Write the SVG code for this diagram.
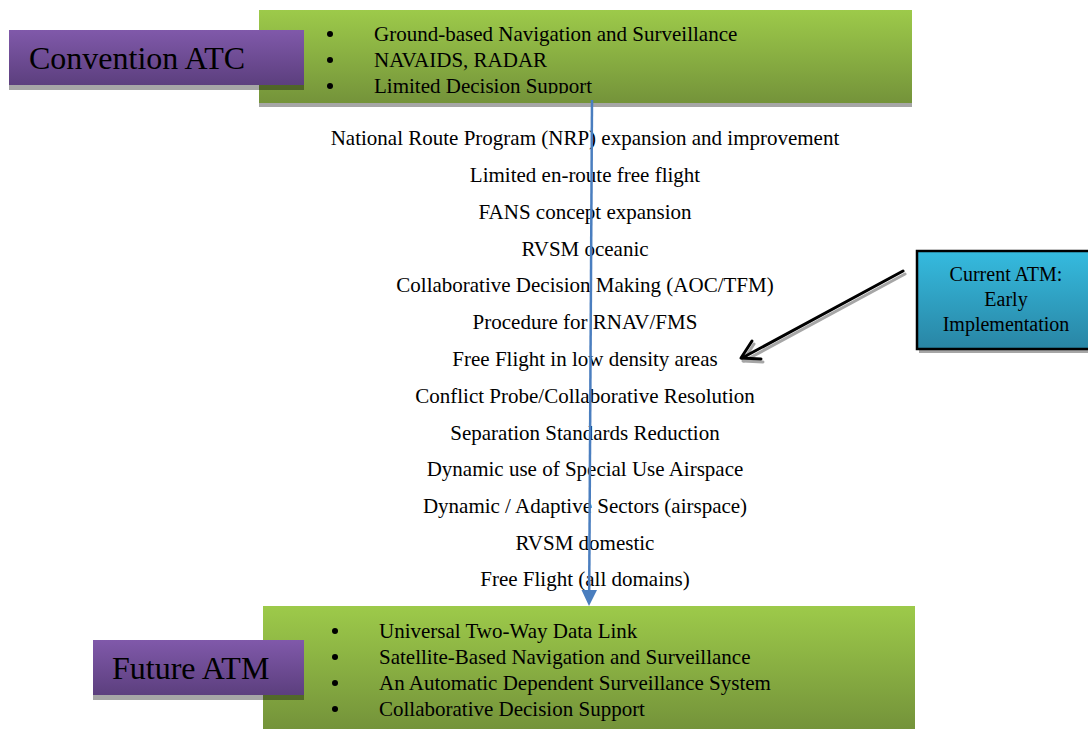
<svg xmlns="http://www.w3.org/2000/svg" width="1088" height="729" viewBox="0 0 1088 729">
  <defs>
    <linearGradient id="gGreen" x1="0" y1="0" x2="0" y2="1">
      <stop offset="0" stop-color="#9DCA4A"/>
      <stop offset="1" stop-color="#74933A"/>
    </linearGradient>
    <linearGradient id="gPurple" x1="0" y1="0" x2="0" y2="1">
      <stop offset="0" stop-color="#8059AA"/>
      <stop offset="1" stop-color="#5C3F7E"/>
    </linearGradient>
    <linearGradient id="gTeal" x1="0" y1="0" x2="0" y2="1">
      <stop offset="0" stop-color="#35BBDF"/>
      <stop offset="1" stop-color="#2985A4"/>
    </linearGradient>
    <clipPath id="clipTop">
      <rect x="259" y="10" width="653" height="83.5"/>
    </clipPath>
  </defs>
  <style>
    text { font-family: "Liberation Serif", "DejaVu Serif", "Times New Roman", serif; fill: #000; }
    .title { font-size: 32px; }
    .item { font-size: 21px; }
    .mid { font-size: 21px; text-anchor: middle; }
    .note { font-size: 20px; text-anchor: middle; }
    .shadow { fill: #000; opacity: 0.35; }
    .dot { fill: #000; }
  </style>

  <rect width="1088" height="729" fill="#fff"/>

  <!-- conventional ATC: bullet panel -->
  <g id="conventional-panel">
    <rect class="shadow" x="259" y="14" width="653" height="93"/>
    <rect x="259" y="10" width="653" height="93" fill="url(#gGreen)"/>
    <g clip-path="url(#clipTop)">
      <circle class="dot" cx="330" cy="34" r="3"/>
      <circle class="dot" cx="330" cy="60" r="3"/>
      <circle class="dot" cx="330" cy="86" r="3"/>
      <text class="item" x="374" y="41" font-family="Liberation Serif, serif">Ground-based Navigation and Surveillance</text>
      <text class="item" x="374" y="67" font-family="Liberation Serif, serif">NAVAIDS, RADAR</text>
      <text class="item" x="374" y="93" font-family="Liberation Serif, serif">Limited Decision Support</text>
    </g>
  </g>

  <!-- conventional ATC: label -->
  <g id="conventional-label">
    <rect class="shadow" x="9" y="35" width="295" height="55"/>
    <rect x="9" y="30" width="295" height="55" fill="url(#gPurple)"/>
    <text class="title" x="29" y="69">Convention ATC</text>
  </g>

  <!-- transition milestones -->
  <g id="milestones">
    <text class="mid" x="585" y="145">National Route Program (NRP) expansion and improvement</text>
    <text class="mid" x="585" y="182">Limited en-route free flight</text>
    <text class="mid" x="585" y="219">FANS concept expansion</text>
    <text class="mid" x="585" y="256">RVSM oceanic</text>
    <text class="mid" x="585" y="292">Collaborative Decision Making (AOC/TFM)</text>
    <text class="mid" x="585" y="329">Procedure for RNAV/FMS</text>
    <text class="mid" x="585" y="366">Free Flight in low density areas</text>
    <text class="mid" x="585" y="403">Conflict Probe/Collaborative Resolution</text>
    <text class="mid" x="585" y="440">Separation Standards Reduction</text>
    <text class="mid" x="585" y="476">Dynamic use of Special Use Airspace</text>
    <text class="mid" x="585" y="513">Dynamic / Adaptive Sectors (airspace)</text>
    <text class="mid" x="585" y="550">RVSM domestic</text>
    <text class="mid" x="585" y="586">Free Flight (all domains)</text>
  </g>

  <!-- future ATM: bullet panel -->
  <g id="future-panel">
    <rect x="263" y="606" width="652" height="123" fill="url(#gGreen)"/>
    <circle class="dot" cx="335" cy="631" r="3"/>
    <circle class="dot" cx="335" cy="657" r="3"/>
    <circle class="dot" cx="335" cy="683" r="3"/>
    <circle class="dot" cx="335" cy="709" r="3"/>
    <text class="item" x="379" y="638">Universal Two-Way Data Link</text>
    <text class="item" x="379" y="664">Satellite-Based Navigation and Surveillance</text>
    <text class="item" x="379" y="690">An Automatic Dependent Surveillance System</text>
    <text class="item" x="379" y="716">Collaborative Decision Support</text>
  </g>

  <!-- future ATM: label -->
  <g id="future-label">
    <rect class="shadow" x="93" y="645" width="211" height="55"/>
    <rect x="93" y="640" width="211" height="55" fill="url(#gPurple)"/>
    <text class="title" x="112" y="679">Future ATM</text>
  </g>

  <!-- current ATM callout -->
  <g id="current-atm">
    <rect class="shadow" x="919" y="255" width="180" height="98"/>
    <rect x="917" y="251" width="180" height="98" fill="url(#gTeal)" stroke="#000" stroke-width="2.5"/>
    <text class="note" x="1006" y="281">Current ATM:</text>
    <text class="note" x="1006" y="306">Early</text>
    <text class="note" x="1006" y="331">Implementation</text>
  </g>

  <!-- connectors -->
  <g id="connectors">
    <line x1="592" y1="100" x2="589.2" y2="592" stroke="#4A7EBF" stroke-width="2.5"/>
    <path d="M581.5,590 L597,590 L589,606 z" fill="#4A7EBF"/>
    <g fill="none" stroke-linecap="round" stroke-linejoin="round">
      <g stroke="#A6A6A6" stroke-width="3" transform="translate(2,3)">
        <line x1="903" y1="271" x2="742" y2="358"/>
        <polyline points="752,341 741,358 761,359"/>
      </g>
      <g stroke="#000" stroke-width="3">
        <line x1="903" y1="271" x2="742" y2="358"/>
        <polyline points="752,341 741,358 761,359"/>
      </g>
    </g>
  </g>
</svg>
